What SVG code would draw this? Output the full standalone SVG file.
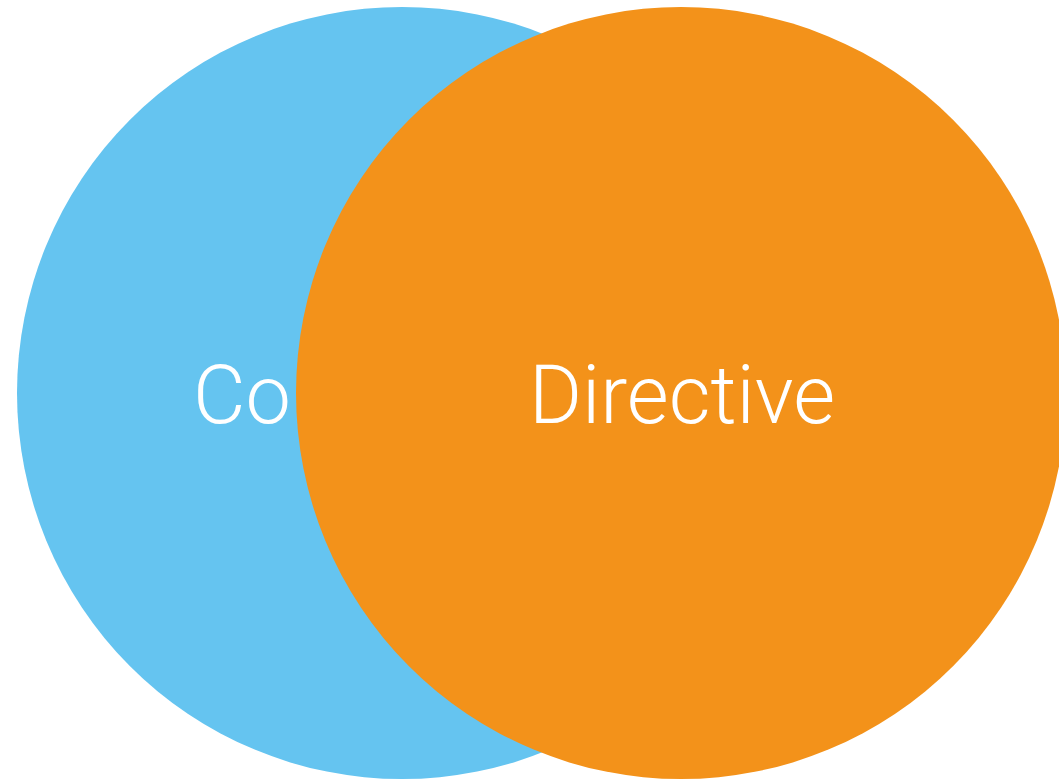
<svg xmlns="http://www.w3.org/2000/svg" width="1059" height="779" viewBox="0 0 1059 779">
  <style>
    .label { fill: #ffffff; font-family: Roboto, "Helvetica Neue", "Liberation Sans", sans-serif; font-weight: 300; font-size: 81px; }
  </style>
  <rect width="1059" height="779" fill="#ffffff"/>
  <g id="node-component">
    <ellipse cx="402" cy="393" rx="385" ry="386" fill="#65C4F0"/>
    <text class="label" x="193" y="423">Co</text>
  </g>
  <g id="node-directive">
    <ellipse cx="681" cy="393" rx="385" ry="386" fill="#F3921A"/>
    <text class="label" x="682" y="423" text-anchor="middle">Directive</text>
  </g>
  <g id="connectors"/>
</svg>
